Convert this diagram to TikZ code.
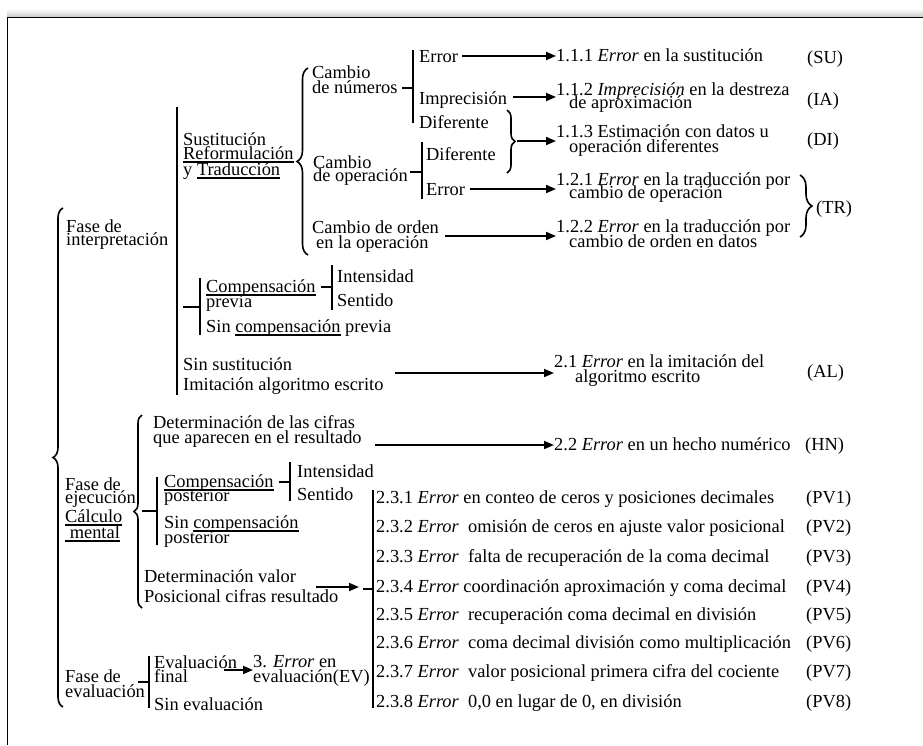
\documentclass[tikz,border=0pt]{standalone}
\usepackage{fontspec}
\setmainfont{Liberation Serif}
\usetikzlibrary{arrows.meta,decorations.pathreplacing}
\newcommand{\ulx}[1]{\setbox0=\hbox{#1}\rlap{\rule[-4pt]{\wd0}{1.8pt}}\box0\relax}
\begin{document}
\begin{tikzpicture}[x=1pt,y=-1pt,
  txt/.style={anchor=base west, inner sep=0pt, font=\fontsize{18.4}{18}\selectfont},
  bar/.style={line width=2pt},
  link/.style={line width=1.8pt},
  arr/.style={line width=1.8pt, -{Triangle[length=10pt,width=8pt]}},
  brc/.style={line width=1.6pt, decorate, decoration={brace, amplitude=#1}},
]
\useasboundingbox (0,0) rectangle (923,745);
% frame
\shade[top color=white,bottom color=gray!40] (7,9) rectangle (923,16.5);
\draw[line width=1pt] (7,745) -- (7,17) -- (923,17);

% ---------- texts (x, baseline = centre+5)
\node[txt] (e1)   at (419,62)  {Error};
\node[txt] (imp)  at (419,104) {Imprecisión};
\node[txt] (dif1) at (419,128) {Diferente};
\node[txt] (cn1)  at (312,78)  {Cambio};
\node[txt] (cn2)  at (312,93)  {de números};
\node[txt] (st1)  at (183,145) {Sustitución};
\node[txt] (st2)  at (183,159) {\ulx{Reformulación}};
\node[txt] (st3)  at (183,175) {y \ulx{Traducción}};
\node[txt] (co1)  at (313,168) {Cambio};
\node[txt] (co2)  at (313,181) {de operación};
\node[txt] (dif2) at (426,160) {Diferente};
\node[txt] (e2)   at (426,195) {Error};
\node[txt] (cor1) at (312,233) {Cambio de orden};
\node[txt] (cor2) at (316,248) {en la operación};

\node[txt] (t111)  at (556,61)  {1.1.1 \textit{Error} en la sustitución};
\node[txt] (t112a) at (556,95)  {1.1.2 \textit{Imprecisión} en la destreza};
\node[txt] (t112b) at (569,108) {de aproximación};
\node[txt] (t113a) at (556,137) {1.1.3 Estimación con datos u};
\node[txt] (t113b) at (569,152) {operación diferentes};
\node[txt] (t121a) at (556,185) {1.2.1 \textit{Error} en la traducción por};
\node[txt] (t121b) at (569,198) {cambio de operación};
\node[txt] (t122a) at (556,232) {1.2.2 \textit{Error} en la traducción por};
\node[txt] (t122b) at (569,247) {cambio de orden en datos};
\node[txt] (su) at (807,63)  {(SU)};
\node[txt] (ia) at (807,105) {(IA)};
\node[txt] (di) at (807,145) {(DI)};
\node[txt] (tr) at (816,213) {(TR)};

\node[txt] (f1a) at (66,232) {Fase de};
\node[txt] (f1b) at (66,245) {interpretación};
\node[txt] (cp1) at (206,292) {\ulx{Compensación}};
\node[txt] (cp2) at (206,307) {previa};
\node[txt] (in1) at (337,282) {Intensidad};
\node[txt] (se1) at (337,306) {Sentido};
\node[txt] (scp) at (206,332) {Sin \ulx{compensación} previa};
\node[txt] (ss1) at (183,370) {Sin sustitución};
\node[txt] (ss2) at (183,390) {Imitación algoritmo escrito};
\node[txt] (t21a) at (554,367) {2.1 \textit{Error} en la imitación del};
\node[txt] (t21b) at (575,382) {algoritmo escrito};
\node[txt] (al)   at (807,377) {(AL)};

\node[txt] (dc1) at (153,428) {Determinación de las cifras};
\node[txt] (dc2) at (153,443) {que aparecen en el resultado};
\node[txt] (t22) at (554,450) {2.2 \textit{Error} en un hecho numérico};
\node[txt] (hn)  at (805,450) {(HN)};

\node[txt] (f2a) at (65,490) {Fase de};
\node[txt] (f2b) at (65,503) {ejecución};
\node[txt] (f2c) at (65,522) {\ulx{Cálculo}};
\node[txt] (f2d) at (65,538) {\ulx{\ mental}};
\node[txt] (cpp1) at (164,487) {\ulx{Compensación}};
\node[txt] (cpp2) at (164,501) {posterior};
\node[txt] (in2) at (297,477) {Intensidad};
\node[txt] (se2) at (297,500) {Sentido};
\node[txt] (scpp1) at (164,528) {Sin \ulx{compensación}};
\node[txt] (scpp2) at (164,543) {posterior};
\node[txt] (dv1) at (144,582) {Determinación valor};
\node[txt] (dv2) at (144,602) {Posicional cifras resultado};

\node[txt] (r1) at (376,503) {2.3.1 \textit{Error} en conteo de ceros y posiciones decimales};
\node[txt] (r2) at (376,532) {2.3.2 \textit{Error}\ \ omisión de ceros en ajuste valor posicional};
\node[txt] (r3) at (376,562) {2.3.3 \textit{Error}\ \ falta de recuperación de la coma decimal};
\node[txt] (r4) at (376,592) {2.3.4 \textit{Error} coordinación aproximación y coma decimal};
\node[txt] (r5) at (376,620) {2.3.5 \textit{Error}\ \ recuperación coma decimal en división};
\node[txt] (r6) at (376,648) {2.3.6 \textit{Error}\ \ coma decimal división como multiplicación};
\node[txt] (r7) at (376,677) {2.3.7 \textit{Error}\ \ valor posicional primera cifra del cociente};
\node[txt] (r8) at (376,707) {2.3.8 \textit{Error}\ \ 0,0 en lugar de 0, en división};
\node[txt] (pv1) at (806,503) {(PV1)};
\node[txt] (pv2) at (806,532) {(PV2)};
\node[txt] (pv3) at (806,562) {(PV3)};
\node[txt] (pv4) at (806,592) {(PV4)};
\node[txt] (pv5) at (806,620) {(PV5)};
\node[txt] (pv6) at (806,648) {(PV6)};
\node[txt] (pv7) at (806,677) {(PV7)};
\node[txt] (pv8) at (806,707) {(PV8)};

\node[txt] (f3a) at (65,682) {Fase de};
\node[txt] (f3b) at (65,697) {evaluación};
\node[txt] (ev1) at (154,668) {Evaluación};
\node[txt] (ev2) at (154,682) {final};
\node[txt] (e3a) at (253,667) {3. \textit{Error} en};
\node[txt] (e3b) at (253,682) {evaluación(EV)};
\node[txt] (sev) at (154,710) {Sin evaluación};

% ---------- bars
\draw[bar] (413,50) -- (413,123);
\draw[bar] (422,142) -- (422,199);
\draw[bar] (177,107) -- (177,395);
\draw[bar] (200,278) -- (200,335);
\draw[bar] (332,265) -- (332,310);
\draw[bar] (157,477) -- (157,545);
\draw[bar] (290,462) -- (290,501);
\draw[bar] (373,490) -- (373,708);
\draw[bar] (149,656) -- (149,708);

% ---------- short links into bars
\draw[link] (402,88) -- (413,88);
\draw[link] (410,172) -- (422,172);
\draw[link] (183,307) -- (200,307);
\draw[link] (321,287) -- (332,287);
\draw[link] (142,511) -- (157,511);
\draw[link] (279,482) -- (290,482);
\draw[link] (363,589) -- (373,589);
\draw[link] (138,682) -- (149,682);

% ---------- braces
\draw[brc=10pt] (63,707) -- (63,208);
\draw[brc=11pt] (308,255) -- (308,68);
\draw[brc=8pt]  (142,608) -- (142,415);
\draw[brc=8pt]  (507,110) -- (507,173);
\draw[brc=12pt] (800,175) -- (800,237);

% ---------- arrows
\coordinate (a1) at (462,56);
\coordinate (a2) at (513,97);
\coordinate (a3) at (517,141);
\coordinate (a4) at (470,189);
\coordinate (a5) at (445,236);
\coordinate (a6) at (395,373);
\coordinate (a7) at (375,445);
\coordinate (a8) at (316,587);
\coordinate (a8e) at (359,587);
\coordinate (a9) at (224,670);
\draw[arr] (a1) -- (a1 -| t111.west);
\draw[arr] (a2) -- (a2 -| t112a.west);
\draw[arr] (a3) -- (a3 -| t113a.west);
\draw[arr] (a4) -- (a4 -| t121a.west);
\draw[arr] (a5) -- (a5 -| t122a.west);
\draw[arr] (a6) -- (a6 -| t21a.west);
\draw[arr] (a7) -- (a7 -| t22.west);
\draw[arr] (a8) -- (a8e);
\draw[arr] (a9) -- (a9 -| e3a.west);
\end{tikzpicture}
\end{document}
